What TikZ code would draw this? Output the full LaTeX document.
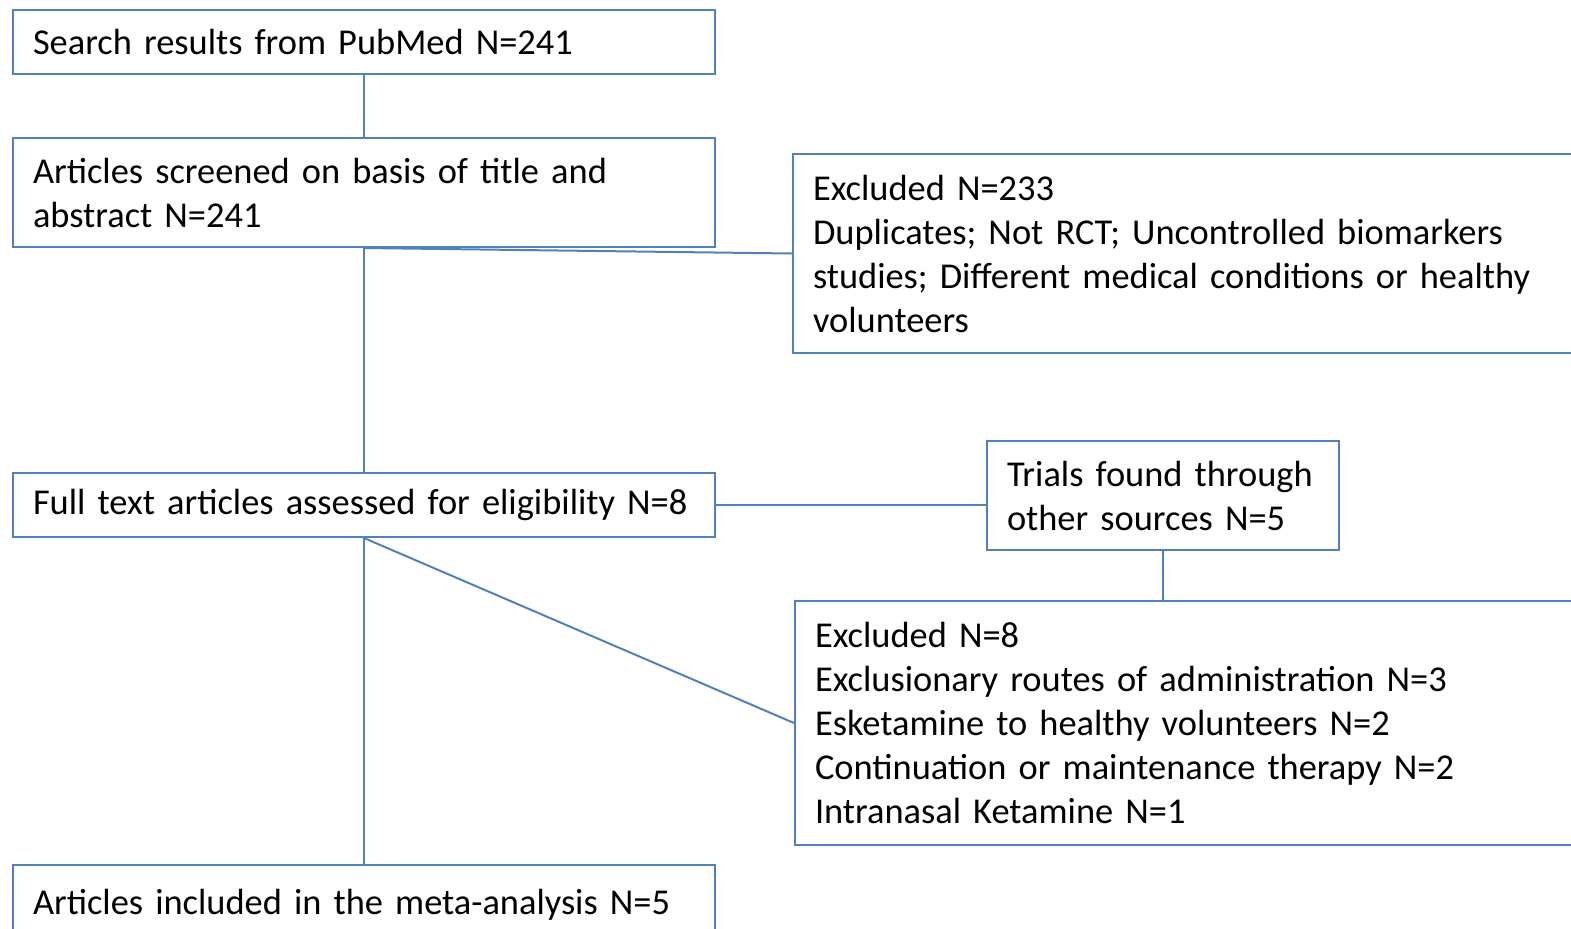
\documentclass[tikz,border=0pt]{standalone}
\usepackage{fontspec}
\setmainfont{Carlito}
\usepackage{xcolor}
\usetikzlibrary{positioning}
\definecolor{boxblue}{HTML}{4F81BD}

\begin{document}
\begin{tikzpicture}[
    x=0.5pt, y=-0.5pt,
    font=\fontsize{18.2}{22}\selectfont,
    box/.style = {draw=boxblue, line width=1pt, anchor=north west, align=left, inner xsep=10pt, inner ysep=0pt},
    mainbox/.style = {box, text width=331pt},
    link/.style = {draw=boxblue, line width=1pt}
]
    \clip (0,0) rectangle (1571,928);

    % main column
    \node[mainbox, minimum height=32pt] (search) at (12,9) {Search results from PubMed N=241};
    \node[mainbox, minimum height=54.5pt] (screen) at (12,137) {Articles screened on basis of title and\\ abstract N=241};
    \node[mainbox, minimum height=32pt] (fulltext) at (12,472) {Full text articles assessed for eligibility N=8};
    \node[mainbox, minimum height=40pt] (included) at (12,864) {Articles included in the meta-analysis N=5};

    % side boxes
    \node[box, text width=384pt, minimum height=99.5pt] (excla) at (792,153) {Excluded N=233\\ Duplicates; Not RCT; Uncontrolled biomarkers\\ studies; Different medical conditions or healthy\\ volunteers};
    \node[box, text width=156pt, minimum height=54.5pt] (trials) at (986,440) {Trials found through\\ other sources N=5};
    \node[box, text width=384pt, minimum height=122pt] (exclb) at (794,600) {Excluded N=8\\ Exclusionary routes of administration N=3\\ Esketamine to healthy volunteers N=2\\ Continuation or maintenance therapy N=2\\ Intranasal Ketamine N=1};

    \draw[link] (search) -- (screen);
    \draw[link] (screen) -- (fulltext);
    \draw[link] (screen.south) -- (excla.west);
    \draw[link] (fulltext.east) -- (fulltext.east -| trials.west);
    \draw[link] (trials) -- (trials |- exclb.north);
    \draw[link] (fulltext.south) -- (exclb.west);
    \draw[link] (fulltext) -- (included);
\end{tikzpicture}
\end{document}
